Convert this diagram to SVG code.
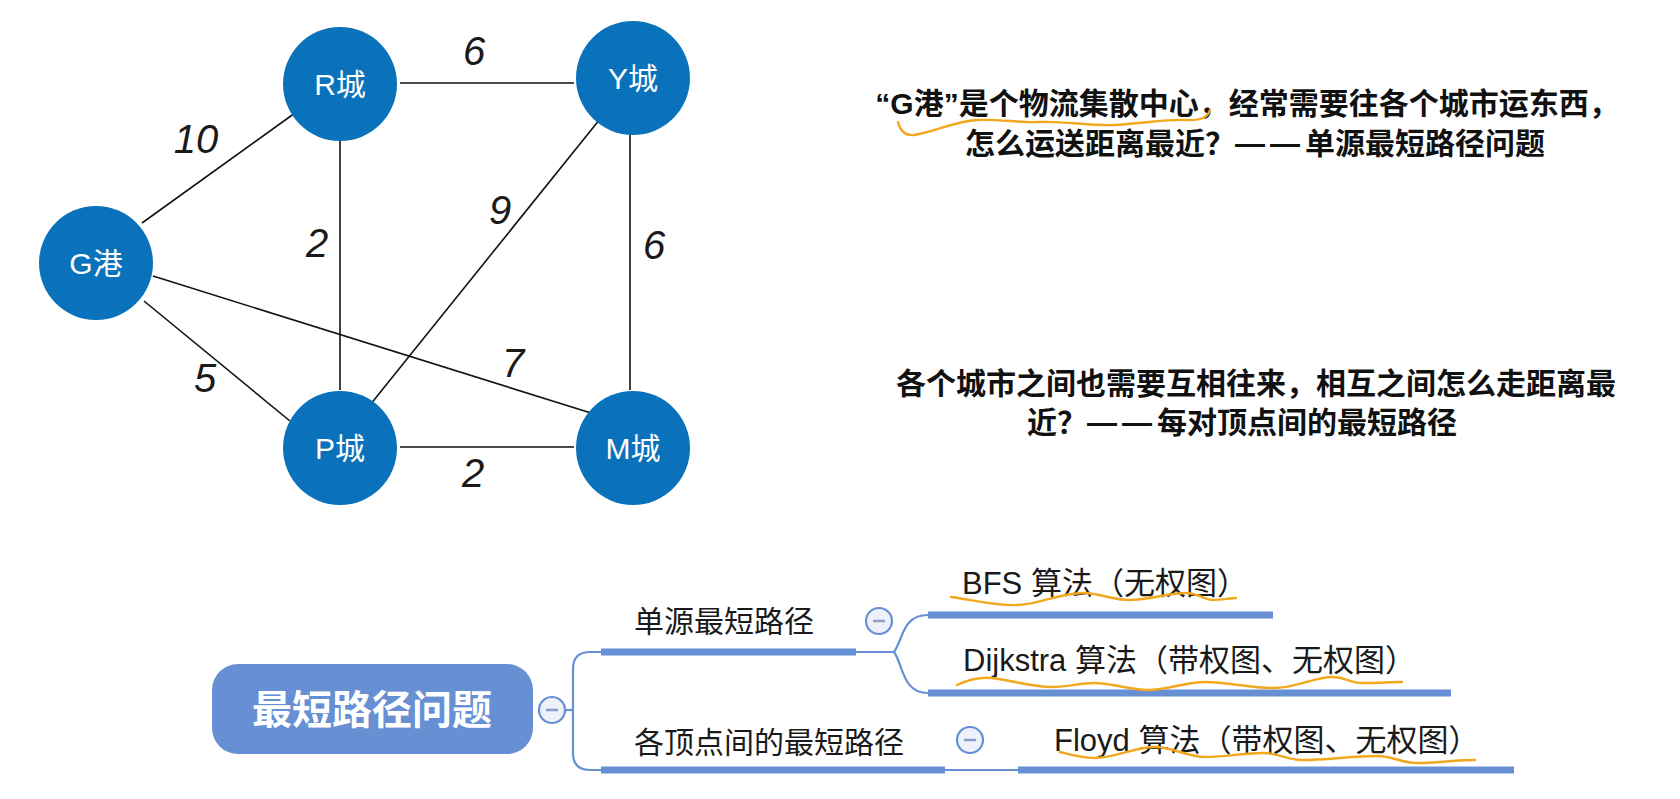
<svg xmlns="http://www.w3.org/2000/svg" width="1680" height="799" viewBox="0 0 1680 799">
<style>
.node{fill:#0a72bb}
.nl{fill:#fff;font-family:"Liberation Sans","Noto Sans CJK SC",sans-serif;font-size:30px;text-anchor:middle;dominant-baseline:central}
.edge{stroke:#111;stroke-width:1.6;fill:none}
.el{fill:#1a1a1a;font-family:"Liberation Sans",sans-serif;font-style:italic;font-size:40px;text-anchor:middle;dominant-baseline:central}
.para{fill:#111;font-family:"Liberation Sans","Noto Sans CJK SC",sans-serif;font-weight:bold;font-size:30px;text-anchor:middle;dominant-baseline:central}
.dd{letter-spacing:5px}
.mm{fill:#1a1a1a;font-family:"Liberation Sans","Noto Sans CJK SC",sans-serif;font-size:30px;dominant-baseline:central}
.alg{font-size:31px}
.bar{fill:#6690d3}
.thin{stroke:#6690d3;stroke-width:2.2;fill:none}
.col{fill:#eef1fa;stroke:#6690d3;stroke-width:2.2}
.dash{stroke:#8a9cc8;stroke-width:2.5}
.sq{stroke:#f2a81d;stroke-width:2.4;fill:none;stroke-linecap:round;stroke-linejoin:round}
</style>
<rect width="1680" height="799" fill="#fff"/>
<g id="connectors">
<line class="edge" x1="142" y1="223" x2="295" y2="113"/>
<line class="edge" x1="400" y1="83" x2="574" y2="83"/>
<line class="edge" x1="340" y1="134" x2="340" y2="390"/>
<line class="edge" x1="600" y1="119" x2="370" y2="405"/>
<line class="edge" x1="630" y1="134" x2="630" y2="390"/>
<line class="edge" x1="153" y1="276" x2="591" y2="413"/>
<line class="edge" x1="144" y1="301" x2="290" y2="421"/>
<line class="edge" x1="400" y1="447" x2="574" y2="447"/>
</g>
<g id="edge-labels">
<text class="el" x="474" y="51">6</text>
<text class="el" x="196" y="139">10</text>
<text class="el" x="317" y="243">2</text>
<text class="el" x="500" y="210">9</text>
<text class="el" x="654" y="245">6</text>
<text class="el" x="513" y="363">7</text>
<text class="el" x="205" y="378">5</text>
<text class="el" x="473" y="473">2</text>
</g>
<g id="node-R"><circle class="node" cx="340" cy="84" r="57"/><text class="nl" x="340" y="84">R城</text></g>
<g id="node-Y"><circle class="node" cx="633" cy="78" r="57"/><text class="nl" x="633" y="78">Y城</text></g>
<g id="node-G"><circle class="node" cx="96" cy="263" r="57"/><text class="nl" x="96" y="263">G港</text></g>
<g id="node-P"><circle class="node" cx="340" cy="448" r="57"/><text class="nl" x="340" y="448">P城</text></g>
<g id="node-M"><circle class="node" cx="633" cy="448" r="57"/><text class="nl" x="633" y="448">M城</text></g>

<g id="para1">
<text class="para" x="1247" y="103">“G港”是个物流集散中心，经常需要往各个城市运东西，</text>
<text class="para" x="1255" y="143">怎么运送距离最近？<tspan class="dd">——</tspan>单源最短路径问题</text>
<path class="sq" d="M898,122 C900,130 905,136 914,135 C935,132 955,121 977,120 C1000,119 1020,123 1040,122 C1065,121 1090,126 1113,125 C1140,124 1165,119 1186,120 C1200,121 1208,117 1210,110"/>
</g>
<g id="para2">
<text class="para" x="1256" y="383">各个城市之间也需要互相往来，相互之间怎么走距离最</text>
<text class="para" x="1242" y="422">近？<tspan class="dd">——</tspan>每对顶点间的最短路径</text>
</g>

<g id="mm-connectors">
<path class="thin" d="M566,710 H573"/>
<path class="thin" d="M601,652 H590 Q573,652 573,669 V753 Q573,770 590,770 H601"/>
<path class="thin" d="M856,652 H894"/>
<path class="thin" d="M894,652 C903,640 902,615 928,615"/>
<path class="thin" d="M894,652 C903,664 902,693 928,693"/>
<path class="thin" d="M945,770 H1018"/>
</g>
<g id="mm-root">
<rect x="212" y="664" width="321" height="90" rx="26" fill="#6690d3"/>
<text x="372" y="710" fill="#fff" font-family="'Liberation Sans','Noto Sans CJK SC',sans-serif" font-size="40" font-weight="bold" text-anchor="middle" dominant-baseline="central">最短路径问题</text>
<circle class="col" cx="552" cy="710" r="13"/><line class="dash" x1="546" y1="710" x2="558" y2="710"/>
</g>
<g id="mm-single">
<rect class="bar" x="601" y="648.5" width="255" height="7"/>
<text class="mm" x="634" y="621">单源最短路径</text>
<circle class="col" cx="879" cy="621" r="13"/><line class="dash" x1="873" y1="621" x2="885" y2="621"/>
</g>
<g id="mm-all">
<rect class="bar" x="601" y="766.5" width="344" height="7"/>
<text class="mm" x="634" y="742">各顶点间的最短路径</text>
<circle class="col" cx="970" cy="740" r="13"/><line class="dash" x1="964" y1="740" x2="976" y2="740"/>
</g>
<g id="mm-bfs">
<rect class="bar" x="928" y="611.5" width="345" height="7"/>
<text class="mm alg" x="962" y="583">BFS 算法（无权图）</text>
<path class="sq" d="M951,597 C975,600 995,606 1018,605 C1040,604 1060,593 1083,593 C1100,593 1112,600 1129,600 C1150,600 1168,593 1186,593 C1198,593 1205,600 1213,600 C1222,600 1230,598 1236,598"/>
</g>
<g id="mm-dijkstra">
<rect class="bar" x="928" y="689.5" width="523" height="7"/>
<text class="mm alg" x="963" y="660">Dijkstra 算法（带权图、无权图）</text>
<path class="sq" d="M957,685 C968,680 980,677 991,678 C1012,680 1030,687 1052,687 C1068,687 1080,683 1094,683 C1112,683 1130,690 1148,690 C1168,690 1185,682 1205,682 C1228,682 1250,688 1274,688 C1295,688 1315,677 1332,677 C1345,677 1350,683 1362,683 C1378,683 1390,682 1402,682"/>
</g>
<g id="mm-floyd">
<rect class="bar" x="1018" y="766.5" width="496" height="7"/>
<text class="mm alg" x="1054" y="740">Floyd 算法（带权图、无权图）</text>
<path class="sq" d="M1060,752 C1072,755 1082,758 1094,758 C1115,758 1135,747 1155,747 C1172,747 1188,757 1205,757 C1225,757 1245,753 1263,753 C1278,753 1288,760 1301,760 C1328,760 1352,756 1378,756 C1392,756 1402,763 1416,763 C1436,763 1456,760 1475,760"/>
</g>
</svg>
